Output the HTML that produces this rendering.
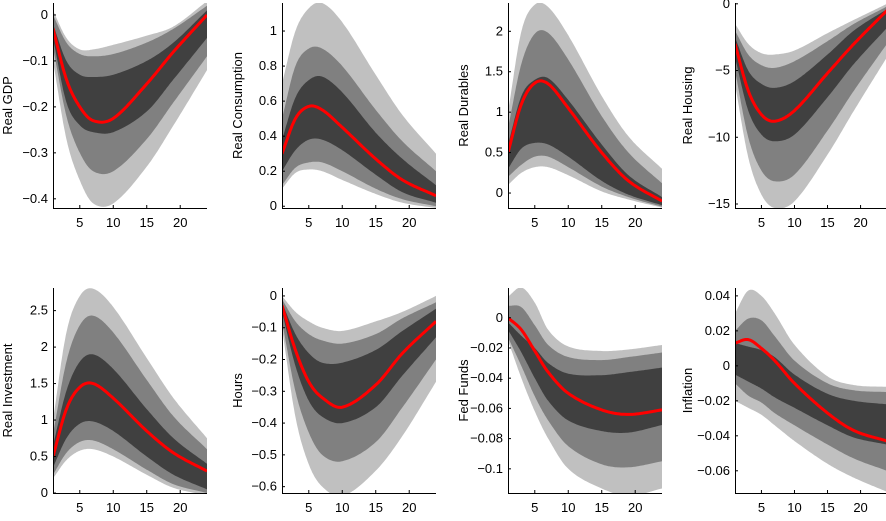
<!DOCTYPE html>
<html><head><meta charset="utf-8"><style>
body{margin:0;background:#fff;}
svg text{font-family:"Liberation Sans",sans-serif;font-size:13px;fill:#000;}
</style></head><body>
<svg id="fig" width="886" height="516" xmlns="http://www.w3.org/2000/svg"></svg>
<script>
const horizons=[1,3,5,7,10,15,19,24];
const titles=["Real GDP","Real Consumption","Real Durables","Real Housing","Real Investment","Hours","Fed Funds","Inflation"];
const medians=[
[-0.03,-0.14,-0.20,-0.23,-0.225,-0.15,-0.08,0],
[0.3,0.5,0.57,0.55,0.45,0.27,0.15,0.06],
[0.5,1.1,1.36,1.35,1.05,0.5,0.15,-0.1],
[-3,-6.5,-8.3,-8.8,-8,-5.2,-3,-0.5],
[0.5,1.15,1.45,1.5,1.3,0.85,0.55,0.3],
[-0.03,-0.17,-0.27,-0.32,-0.35,-0.28,-0.18,-0.08],
[0,-0.008,-0.022,-0.036,-0.05,-0.061,-0.064,-0.061],
[0.013,0.015,0.01,0.003,-0.01,-0.027,-0.037,-0.043]];
const outerHi=[
[0.01,-0.05,-0.075,-0.075,-0.065,-0.045,-0.025,0.03],
[0.7,1.0,1.13,1.16,1.05,0.75,0.52,0.3],
[1.0,2.0,2.33,2.3,1.95,1.2,0.7,0.3],
[-1.5,-3,-3.7,-3.8,-3.5,-2.2,-1.2,0],
[1.0,2.2,2.7,2.8,2.55,1.85,1.3,0.75],
[0,-0.05,-0.08,-0.1,-0.11,-0.08,-0.05,0],
[0.014,0.02,0.01,-0.008,-0.019,-0.022,-0.021,-0.018],
[0.03,0.043,0.04,0.03,0.012,-0.006,-0.011,-0.012]];
const midHi=[
[0,-0.06,-0.085,-0.09,-0.085,-0.06,-0.03,0.02],
[0.5,0.8,0.9,0.9,0.8,0.55,0.37,0.2],
[0.8,1.6,1.97,1.98,1.65,0.95,0.5,0.12],
[-2,-3.8,-4.6,-4.8,-4.3,-2.8,-1.5,-0.2],
[0.8,1.8,2.3,2.43,2.2,1.55,1.05,0.6],
[-0.01,-0.08,-0.12,-0.14,-0.15,-0.12,-0.07,-0.02],
[0.008,0.007,-0.005,-0.018,-0.026,-0.028,-0.026,-0.023],
[0.02,0.027,0.026,0.017,0.003,-0.01,-0.014,-0.015]];
const innerHi=[
[-0.02,-0.10,-0.13,-0.135,-0.13,-0.10,-0.06,0.01],
[0.38,0.62,0.72,0.74,0.65,0.42,0.27,0.12],
[0.6,1.2,1.4,1.42,1.15,0.6,0.22,-0.05],
[-2.5,-5,-6,-6.3,-5.8,-3.8,-2,-0.4],
[0.65,1.4,1.8,1.9,1.7,1.15,0.75,0.4],
[-0.02,-0.12,-0.18,-0.21,-0.21,-0.17,-0.11,-0.04],
[-0.003,-0.012,-0.02,-0.03,-0.037,-0.038,-0.036,-0.033],
[0.013,0.011,0.009,0.005,-0.005,-0.016,-0.02,-0.022]];
const innerLo=[
[-0.05,-0.19,-0.24,-0.255,-0.255,-0.21,-0.14,-0.05],
[0.2,0.32,0.38,0.38,0.32,0.18,0.08,0.02],
[0.3,0.55,0.62,0.6,0.45,0.15,-0.02,-0.15],
[-4,-8,-9.8,-10.3,-9.8,-7,-4.5,-1.8],
[0.35,0.75,0.95,0.98,0.85,0.5,0.25,0.05],
[-0.05,-0.22,-0.33,-0.38,-0.4,-0.35,-0.25,-0.13],
[-0.008,-0.023,-0.04,-0.055,-0.068,-0.075,-0.076,-0.071],
[-0.005,-0.009,-0.013,-0.018,-0.024,-0.034,-0.041,-0.045]];
const midLo=[
[-0.07,-0.22,-0.30,-0.34,-0.34,-0.27,-0.19,-0.09],
[0.12,0.22,0.25,0.25,0.2,0.1,0.04,0],
[0.2,0.35,0.45,0.45,0.32,0.08,-0.05,-0.17],
[-5,-10,-12.5,-13.3,-12.8,-9.5,-6.5,-3],
[0.25,0.55,0.7,0.72,0.6,0.32,0.12,0],
[-0.08,-0.3,-0.43,-0.5,-0.52,-0.46,-0.35,-0.2],
[-0.013,-0.032,-0.052,-0.068,-0.085,-0.097,-0.099,-0.095],
[-0.01,-0.017,-0.021,-0.027,-0.034,-0.045,-0.053,-0.06]];
const outerLo=[
[-0.1,-0.27,-0.36,-0.41,-0.41,-0.33,-0.24,-0.12],
[0.1,0.19,0.21,0.2,0.15,0.07,0.02,-0.01],
[0.1,0.25,0.32,0.32,0.22,0.02,-0.08,-0.18],
[-6,-11.5,-14.3,-15.3,-14.8,-11.3,-8,-4],
[0.2,0.45,0.58,0.6,0.5,0.25,0.07,-0.03],
[-0.1,-0.38,-0.53,-0.6,-0.63,-0.55,-0.44,-0.27],
[-0.015,-0.04,-0.062,-0.08,-0.1,-0.113,-0.118,-0.113],
[-0.02,-0.024,-0.028,-0.034,-0.043,-0.056,-0.064,-0.072]];
const yTicks=[
[0,-0.1,-0.2,-0.3,-0.4],[0,0.2,0.4,0.6,0.8,1],[0,0.5,1,1.5,2],[0,-5,-10,-15],
[0,0.5,1,1.5,2,2.5],[0,-0.1,-0.2,-0.3,-0.4,-0.5,-0.6],[0,-0.02,-0.04,-0.06,-0.08,-0.1],[0.04,0.02,0,-0.02,-0.04,-0.06]];
const yTickLabels=[
["0","−0.1","−0.2","−0.3","−0.4"],["0","0.2","0.4","0.6","0.8","1"],["0","0.5","1","1.5","2"],["0","−5","−10","−15"],
["0","0.5","1","1.5","2","2.5"],["0","−0.1","−0.2","−0.3","−0.4","−0.5","−0.6"],["0","−0.02","−0.04","−0.06","−0.08","−0.1"],["0.04","0.02","0","−0.02","−0.04","−0.06"]];
const yRanges=[[-0.42,0.026],[-0.01,1.16],[-0.185,2.35],[-15.3,0.06],[0,2.81],[-0.62,0.025],[-0.116,0.0197],[-0.0727,0.0445]];
const xTicks=[5,10,15,20];

const NS="http://www.w3.org/2000/svg";
const svg=document.getElementById('fig');
const colLeft=[53,282,508,735],colW=[154,154,154,152],rowTop=[3,288],H=205;
function mk(t,a,p){const e=document.createElementNS(NS,t);for(const k in a)e.setAttribute(k,a[k]);(p||svg).appendChild(e);return e;}
function spline(vals){
  const pts=[];const n=horizons.length;
  for(let i=0;i<n-1;i++){
    const x0=horizons[Math.max(i-1,0)],x1=horizons[i],x2=horizons[i+1],x3=horizons[Math.min(i+2,n-1)];
    const y0=vals[Math.max(i-1,0)],y1=vals[i],y2=vals[i+1],y3=vals[Math.min(i+2,n-1)];
    const m1=(y2-y0)/(x2-x0||1),m2=(y3-y1)/(x3-x1||1);const h=x2-x1;
    for(let s=0;s<20;s++){const t=s/20;const h00=2*t*t*t-3*t*t+1,h10=t*t*t-2*t*t+t,h01=-2*t*t*t+3*t*t,h11=t*t*t-t*t;
      pts.push([x1+t*h,h00*y1+h10*h*m1+h01*y2+h11*h*m2]);}
  }
  pts.push([horizons[n-1],vals[n-1]]);return pts;
}
for(let p=0;p<8;p++){
  const L=colLeft[p%4],W=colW[p%4],T=rowTop[Math.floor(p/4)],B=T+H;
  const [ymin,ymax]=yRanges[p];
  const sx=x=>L+(x-1)/23*W, sy=y=>B-(y-ymin)/(ymax-ymin)*H;
  const g=mk('g',{});
  
  
  mk('clipPath',{id:'c'+p},g).appendChild(mk('rect',{x:L,y:T,width:W,height:H},g));
  const bands=[[outerHi,outerLo,'#c0c0c0','outer-band'],[midHi,midLo,'#808080','mid-band'],[innerHi,innerLo,'#404040','inner-band']];
  for(const [hi,lo,col,nm] of bands){
    const a=spline(hi[p]),b=spline(lo[p]).reverse();
    const d='M'+a.concat(b).map(q=>sx(q[0]).toFixed(1)+','+sy(q[1]).toFixed(1)).join('L')+'Z';
    const e=mk('path',{d:d,fill:col,'clip-path':'url(#c'+p+')'},g);
    
    
  }
  const m=spline(medians[p]);
  const ml=mk('path',{d:'M'+m.map(q=>sx(q[0]).toFixed(1)+','+sy(q[1]).toFixed(1)).join('L'),fill:'none',stroke:'#ff0000','stroke-width':3,'clip-path':'url(#c'+p+')'},g);
  
  
  mk('line',{x1:L+0.5,y1:T,x2:L+0.5,y2:B+0.5,stroke:'#000','stroke-width':1},g);
  mk('line',{x1:L,y1:B+0.5,x2:L+W,y2:B+0.5,stroke:'#000','stroke-width':1},g);
  yTicks[p].forEach((v,i)=>{const y=sy(v);
    mk('line',{x1:L,y1:y,x2:L+3,y2:y,stroke:'#000'},g);
    const t=mk('text',{x:L-5,y:y+4,'text-anchor':'end'},g);t.textContent=yTickLabels[p][i];
    
    });
  xTicks.forEach(v=>{const x=sx(v);
    mk('line',{x1:x,y1:B,x2:x,y2:B-3,stroke:'#000'},g);
    const t=mk('text',{x:x,y:B+19,'text-anchor':'middle'},g);t.textContent=v;
    
    });
  const lx=L-(p%4===3?43:(p%4===0?41:40)),ly=T+H/2;
  const yl=mk('text',{x:lx,y:ly,'text-anchor':'middle',transform:'rotate(-90 '+lx+' '+ly+')','font-size':14},g);
  yl.textContent=titles[p];
  
  
}
</script>
</body></html>
